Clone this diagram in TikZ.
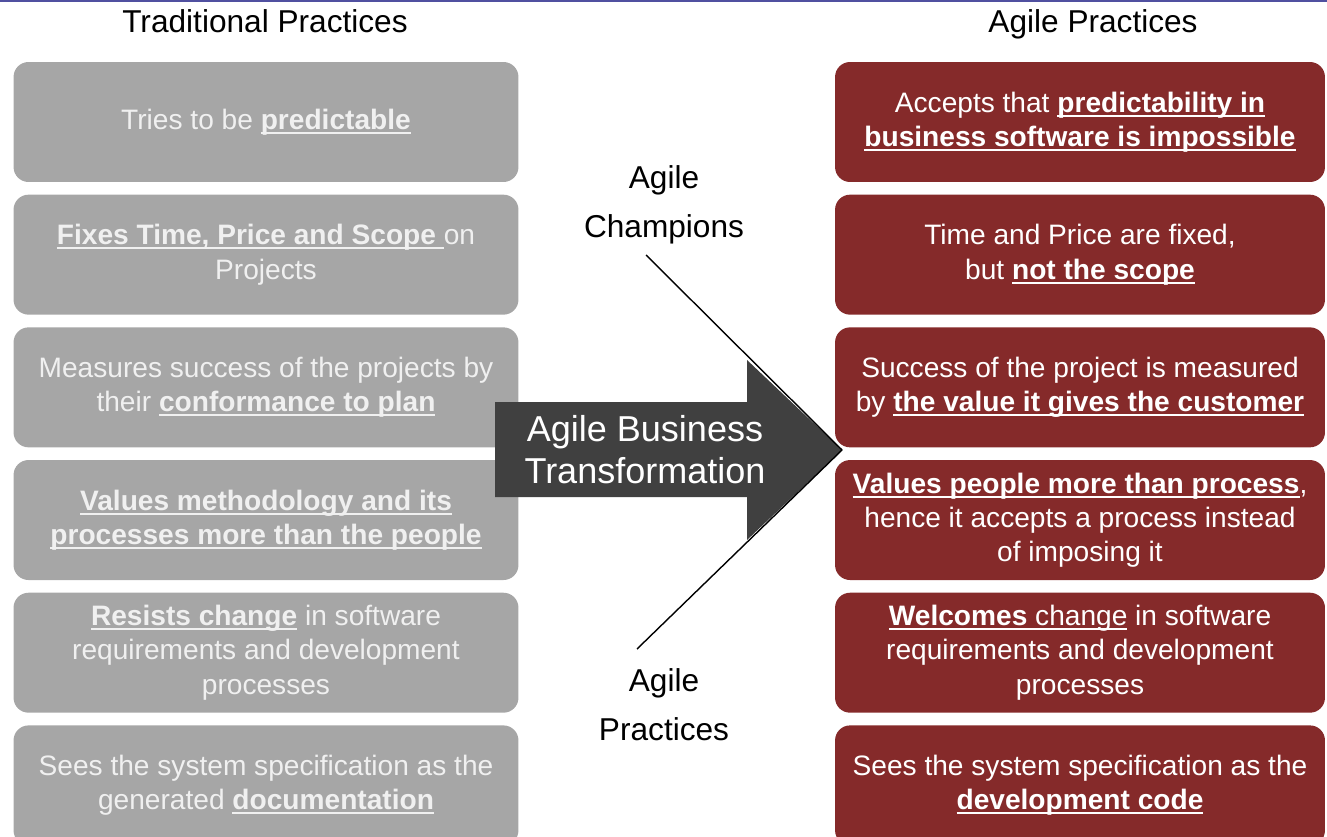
\documentclass[tikz,border=0pt]{standalone}
\usepackage{fontspec}
\setmainfont{Liberation Sans}
\usetikzlibrary{positioning}

\definecolor{tradgray}{RGB}{166,166,166}
\definecolor{agilered}{RGB}{133,42,42}
\definecolor{arrowgray}{RGB}{64,64,64}
\definecolor{topblue}{RGB}{80,80,160}

\newsavebox{\ulbox}
\newcommand{\thickul}[1]{\sbox\ulbox{#1}\rlap{\rule[-2.6pt]{\wd\ulbox}{1.1pt}}\usebox\ulbox}
\newcommand{\keyul}[1]{\thickul{\textbf{#1}}}

\tikzset{
  practice/.style={rounded corners=0.3cm, minimum height=2.4cm, inner sep=0pt,
    align=center, font=\fontsize{16}{19.5}\selectfont},
  trad/.style={practice, fill=tradgray, text=white!94!black, minimum width=10.1cm},
  agile/.style={practice, fill=agilered, text=white, minimum width=9.8cm},
  header/.style={anchor=base, font=\fontsize{18}{21}\selectfont},
  sidelabel/.style={align=center, font=\fontsize{18}{28}\selectfont},
}

\begin{document}
\begin{tikzpicture}[x=0.02cm, y=-0.02cm, node distance=0.24cm]
  \useasboundingbox (0,0) rectangle (1327,837);
  \fill[topblue] (0,0) rectangle (1327,2);

  % column headers
  \node[header] (tradhead) at (265,33) {Traditional Practices};
  \node[header] (agilehead) at (1093,33) {Agile Practices};

  % traditional column
  \node[trad] (t1) at (266,122) {Tries to be \keyul{predictable}};
  \node[trad, below=of t1] (t2) {\keyul{Fixes Time, Price and Scope\ }on\\Projects};
  \node[trad, below=of t2] (t3) {Measures success of the projects by\\their \keyul{conformance to plan}};
  \node[trad, below=of t3] (t4) {\keyul{Values methodology and its}\\\keyul{processes more than the people}};
  \node[trad, below=of t4] (t5) {\keyul{Resists change} in software\\requirements and development\\processes};
  \node[trad, below=of t5] (t6) {Sees the system specification as the\\generated \keyul{documentation}};

  % agile column
  \node[agile] (a1) at (1080,122) {Accepts that \keyul{predictability in}\\\keyul{business software is impossible}};
  \node[agile, below=of a1] (a2) {Time and Price are fixed,\\but \keyul{not the scope}};
  \node[agile, below=of a2] (a3) {Success of the project is measured\\by \keyul{the value it gives the customer}};
  \node[agile, below=of a3] (a4) {\keyul{Values people more than process},\\hence it accepts a process instead\\of imposing it};
  \node[agile, below=of a4] (a5) {\thickul{\textbf{Welcomes} change} in software\\requirements and development\\processes};
  \node[agile, below=of a5] (a6) {Sees the system specification as the\\\keyul{development code}};

  % transformation arrow
  \fill[arrowgray] (495,402) -- (747,402) -- (747,360) -- (842,450)
    -- (747,540) -- (747,497) -- (495,497) -- cycle;
  \node[align=center, text=white, font=\fontsize{20.5}{24}\selectfont] (abt) at (645,450)
    {Agile Business\\Transformation};
  \coordinate (tip) at (842,450);

  % drivers
  \node[sidelabel] (champ) at (664,205) {Agile\\Champions};
  \node[sidelabel] (prac) at (664,705) {Agile\\Practices};
  \coordinate (champend) at (646,255);
  \coordinate (pracend) at (637,649);
  \draw[line width=0.8pt] (champend) -- (tip);
  \draw[line width=0.8pt] (pracend) -- (tip);
\end{tikzpicture}
\end{document}
